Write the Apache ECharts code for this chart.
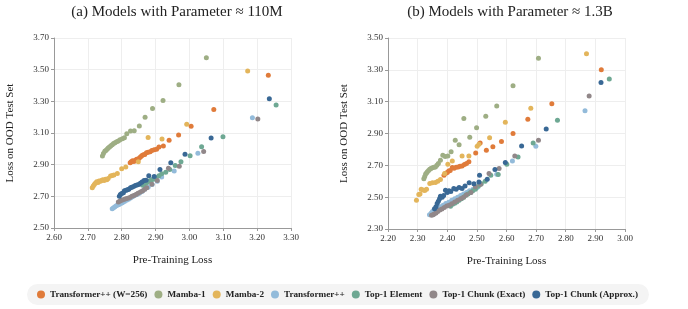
<!DOCTYPE html>
<html><head><meta charset="utf-8">
<script src="https://cdn.jsdelivr.net/npm/echarts@6/dist/echarts.min.js"></script>
<style>html,body{margin:0;padding:0;background:#fff}#c{width:688px;height:309px}</style>
</head><body><div id="c"></div>
<script>
const seriesNames = ["Transformer++ (W=256)","Mamba-1","Mamba-2","Transformer++","Top-1 Element","Top-1 Chunk (Exact)","Top-1 Chunk (Approx.)"];
const colors = ["#E07B3A","#9EAE84","#E3B55B","#93BBDA","#6EA893","#918789","#396895"];
const xTicksA = [2.6,2.7,2.8,2.9,3.0,3.1,3.2,3.3];
const yTicksA = [2.5,2.7,2.9,3.1,3.3,3.5,3.7];
const xTicksB = [2.2,2.3,2.4,2.5,2.6,2.7,2.8,2.9,3.0];
const yTicksB = [2.3,2.5,2.7,2.9,3.1,3.3,3.5];

// Panel (a) 110M
const a_tw256 = [[2.825,2.912],[2.828,2.918],[2.832,2.925],[2.836,2.92],[2.840,2.928],[2.844,2.935],[2.848,2.932],[2.852,2.942],[2.856,2.95],[2.860,2.958],[2.864,2.963],[2.868,2.965],[2.873,2.975],[2.878,2.978],[2.884,2.982],[2.889,2.99],[2.896,2.995],[2.903,2.998],[2.910,3.012],[2.923,3.018],[2.940,3.055],[2.968,3.088],[3.005,3.142],[3.072,3.248],[3.233,3.465]];
const a_mamba1 = [[2.743,2.955],[2.746,2.97],[2.750,2.985],[2.753,2.99],[2.757,2.998],[2.760,3.005],[2.764,3.012],[2.768,3.02],[2.772,3.026],[2.776,3.034],[2.780,3.038],[2.785,3.044],[2.790,3.05],[2.795,3.057],[2.802,3.064],[2.808,3.07],[2.815,3.095],[2.826,3.112],[2.837,3.115],[2.852,3.145],[2.869,3.200],[2.891,3.254],[2.922,3.305],[2.969,3.405],[3.050,3.575]];
const a_mamba2 = [[2.713,2.755],[2.716,2.765],[2.719,2.775],[2.722,2.782],[2.726,2.792],[2.730,2.788],[2.733,2.797],[2.737,2.795],[2.740,2.80],[2.744,2.805],[2.748,2.80],[2.752,2.808],[2.756,2.804],[2.760,2.812],[2.767,2.828],[2.772,2.832],[2.777,2.835],[2.787,2.845],[2.800,2.874],[2.812,2.885],[2.849,2.919],[2.878,3.071],[2.919,3.062],[2.992,3.155],[3.172,3.492]];
const a_tpp = [[2.772,2.622],[2.776,2.628],[2.780,2.635],[2.784,2.64],[2.788,2.645],[2.792,2.648],[2.797,2.655],[2.802,2.66],[2.808,2.668],[2.814,2.675],[2.820,2.682],[2.826,2.69],[2.832,2.698],[2.838,2.705],[2.845,2.712],[2.852,2.72],[2.860,2.73],[2.868,2.745],[2.878,2.758],[2.890,2.775],[2.905,2.795],[2.918,2.822],[2.955,2.86],[3.025,2.972],[3.186,3.197]];
const a_elem = [[2.862,2.770],[2.866,2.776],[2.870,2.782],[2.875,2.788],[2.880,2.795],[2.885,2.80],[2.890,2.806],[2.896,2.81],[2.902,2.818],[2.910,2.83],[2.918,2.842],[2.930,2.852],[2.942,2.87],[2.958,2.895],[2.975,2.918],[3.002,2.956],[3.036,3.013],[3.099,3.077],[3.256,3.277]];
const a_exact = [[2.790,2.665],[2.795,2.67],[2.800,2.675],[2.806,2.68],[2.812,2.685],[2.818,2.688],[2.824,2.692],[2.830,2.70],[2.836,2.705],[2.842,2.712],[2.848,2.72],[2.855,2.728],[2.862,2.735],[2.868,2.745],[2.874,2.755],[2.889,2.776],[2.905,2.80],[2.938,2.877],[2.970,2.890],[3.042,2.983],[3.202,3.188]];
const a_approx = [[2.793,2.700],[2.796,2.712],[2.800,2.718],[2.805,2.722],[2.808,2.735],[2.813,2.738],[2.817,2.742],[2.821,2.745],[2.826,2.755],[2.830,2.758],[2.835,2.762],[2.840,2.768],[2.845,2.772],[2.850,2.775],[2.855,2.782],[2.860,2.79],[2.866,2.80],[2.872,2.802],[2.880,2.830],[2.896,2.826],[2.913,2.869],[2.945,2.912],[2.987,2.966],[3.064,3.069],[3.236,3.317]];

// Panel (b) 1.3B
const b_tw256 = [[2.389,2.638],[2.395,2.65],[2.400,2.655],[2.405,2.665],[2.410,2.668],[2.417,2.686],[2.423,2.682],[2.430,2.688],[2.437,2.69],[2.443,2.695],[2.450,2.696],[2.458,2.705],[2.465,2.712],[2.473,2.722],[2.496,2.778],[2.511,2.841],[2.532,2.795],[2.554,2.816],[2.583,2.850],[2.622,2.90],[2.672,2.99],[2.753,3.087],[2.920,3.30]];
const b_mamba1 = [[2.321,2.615],[2.324,2.63],[2.327,2.645],[2.330,2.652],[2.333,2.66],[2.337,2.668],[2.341,2.675],[2.345,2.68],[2.350,2.685],[2.355,2.688],[2.360,2.69],[2.365,2.70],[2.370,2.712],[2.377,2.732],[2.385,2.764],[2.393,2.755],[2.402,2.759],[2.413,2.785],[2.427,2.858],[2.440,2.829],[2.456,2.995],[2.476,2.877],[2.499,2.936],[2.530,3.009],[2.567,3.072],[2.622,3.20],[2.708,3.372]];
const b_mamba2 = [[2.296,2.481],[2.304,2.516],[2.308,2.52],[2.312,2.55],[2.318,2.545],[2.324,2.542],[2.330,2.55],[2.341,2.586],[2.350,2.59],[2.360,2.592],[2.368,2.60],[2.377,2.611],[2.391,2.649],[2.402,2.707],[2.417,2.728],[2.450,2.759],[2.473,2.759],[2.501,2.82],[2.507,2.833],[2.543,2.873],[2.596,2.97],[2.682,3.058],[2.870,3.401]];
const b_tpp = [[2.340,2.39],[2.346,2.40],[2.350,2.41],[2.355,2.42],[2.362,2.425],[2.370,2.435],[2.378,2.44],[2.386,2.45],[2.395,2.46],[2.405,2.468],[2.415,2.48],[2.425,2.49],[2.435,2.50],[2.445,2.51],[2.455,2.52],[2.465,2.53],[2.475,2.54],[2.487,2.55],[2.501,2.56],[2.567,2.644],[2.620,2.728],[2.699,2.82],[2.865,3.043]];
const b_elem = [[2.411,2.443],[2.418,2.455],[2.425,2.462],[2.432,2.47],[2.440,2.48],[2.448,2.49],[2.455,2.50],[2.462,2.51],[2.470,2.52],[2.478,2.53],[2.486,2.54],[2.495,2.55],[2.505,2.568],[2.515,2.585],[2.528,2.60],[2.547,2.638],[2.572,2.642],[2.601,2.707],[2.639,2.753],[2.690,2.841],[2.772,2.984],[2.947,3.242]];
const b_exact = [[2.347,2.386],[2.352,2.39],[2.356,2.395],[2.362,2.40],[2.368,2.41],[2.375,2.42],[2.382,2.425],[2.390,2.435],[2.398,2.445],[2.406,2.45],[2.415,2.458],[2.425,2.47],[2.435,2.48],[2.445,2.49],[2.455,2.50],[2.465,2.515],[2.480,2.53],[2.495,2.565],[2.512,2.58],[2.541,2.649],[2.575,2.68],[2.628,2.759],[2.708,2.858],[2.879,3.135]];
const b_approx = [[2.357,2.428],[2.362,2.44],[2.366,2.46],[2.370,2.475],[2.374,2.49],[2.377,2.506],[2.383,2.50],[2.388,2.51],[2.394,2.544],[2.400,2.53],[2.406,2.54],[2.412,2.535],[2.422,2.554],[2.430,2.55],[2.440,2.56],[2.450,2.555],[2.460,2.57],[2.474,2.591],[2.490,2.585],[2.507,2.596],[2.509,2.638],[2.535,2.613],[2.561,2.674],[2.596,2.718],[2.651,2.822],[2.734,2.929],[2.919,3.221]];

const panelA = [a_tw256,a_mamba1,a_mamba2,a_tpp,a_elem,a_exact,a_approx];
const panelB = [b_tw256,b_mamba1,b_mamba2,b_tpp,b_elem,b_exact,b_approx];

const FONT = "Liberation Serif";
function xAxis(idx, ticks){
  return {type:'value', gridIndex:idx, min:ticks[0], max:ticks[ticks.length-1], interval:0.1,
    name:'Pre-Training Loss', nameLocation:'middle', nameGap:27,
    nameTextStyle:{fontFamily:FONT,fontSize:11,color:'#222'},
    axisLine:{show:true,lineStyle:{color:'#999'}}, axisTick:{show:true,length:3,lineStyle:{color:'#999'}},
    axisLabel:{fontFamily:FONT,fontSize:9,color:'#333',margin:5,formatter:v=>v.toFixed(2)},
    splitLine:{show:true,lineStyle:{color:'#eeeeee'}}};
}
function yAxis(idx, ticks){
  return {type:'value', gridIndex:idx, min:ticks[0], max:ticks[ticks.length-1], interval:0.2,
    name:'Loss on OOD Test Set', nameLocation:'middle', nameGap:38,
    nameTextStyle:{fontFamily:FONT,fontSize:11,color:'#222'},
    axisLine:{show:true,lineStyle:{color:'#999'}}, axisTick:{show:true,length:3,lineStyle:{color:'#999'}},
    axisLabel:{fontFamily:FONT,fontSize:9,color:'#333',margin:5,formatter:v=>v.toFixed(2)},
    splitLine:{show:true,lineStyle:{color:'#eeeeee'}}};
}
const series = [];
seriesNames.forEach((n,i)=>{
  series.push({name:n,type:'scatter',xAxisIndex:0,yAxisIndex:0,data:panelA[i],symbolSize:5,itemStyle:{color:colors[i],opacity:1}});
  series.push({name:n,type:'scatter',xAxisIndex:1,yAxisIndex:1,data:panelB[i],symbolSize:5,itemStyle:{color:colors[i],opacity:1}});
});
const chart = echarts.init(document.getElementById('c'),null,{renderer:'canvas'});
chart.setOption({
  animation:false,
  title:[
    {text:'(a) Models with Parameter ≈ 110M',left:172,top:0,textAlign:'center',textStyle:{fontFamily:FONT,fontSize:15,fontWeight:'normal',color:'#222'}},
    {text:'(b) Models with Parameter ≈ 1.3B',left:505,top:0,textAlign:'center',textStyle:{fontFamily:FONT,fontSize:15,fontWeight:'normal',color:'#222'}}
  ],
  grid:[{left:54,top:38,width:237,height:190},{left:388,top:38,width:237,height:191}],
  xAxis:[xAxis(0,xTicksA),xAxis(1,xTicksB)],
  yAxis:[yAxis(0,yTicksA),yAxis(1,yTicksB)],
  legend:{data:seriesNames,left:27,top:284,width:660,icon:'circle',itemWidth:8,itemHeight:8,itemGap:7,
    backgroundColor:'#f4f4f4',borderRadius:11,padding:[6,11,6,10],
    textStyle:{fontFamily:FONT,fontSize:9.2,fontWeight:'bold',color:'#222'}},
  series:series
});
</script></body></html>
